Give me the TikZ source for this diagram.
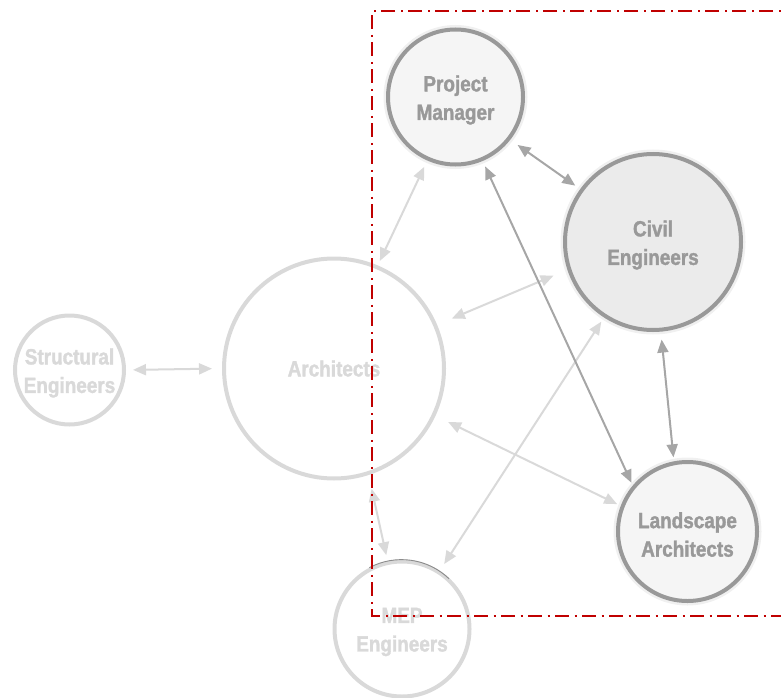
\documentclass[tikz,border=0pt]{standalone}
\usepackage{fontspec}
\newfontfamily\diagfont{Liberation Sans Bold}[FakeStretch=0.86, FakeBold=1.5]
\usetikzlibrary{arrows.meta}
\definecolor{ringgray}{HTML}{999999}
\definecolor{linkgray}{HTML}{A6A6A6}
\definecolor{palegray}{HTML}{D9D9D9}
\definecolor{halogray}{HTML}{F0F0F0}
\definecolor{softfill}{HTML}{F5F5F5}
\definecolor{civilfill}{HTML}{EBEBEB}
\definecolor{shadowgray}{HTML}{8C8C8C}
\definecolor{scopered}{HTML}{C00000}

\tikzset{
  teamtext/.style={align=center, inner sep=0, font=\diagfont\fontsize{22}{28.5}\selectfont},
  team/.style={circle, inner sep=0, teamtext},
  core/.style={team, draw=ringgray, line width=4pt, preaction={draw=halogray, line width=9pt},
    label={[teamtext, text=ringgray, yshift=-3pt]center:#1}},
  outer/.style={team, draw=palegray, line width=4pt, text=palegray, fill=white,
    label={[teamtext, text=palegray, yshift=-3pt]center:#1}},
  link/.style={<->, >={Triangle[length=13pt,width=11pt]}, line width=2pt, draw=linkgray},
  palelink/.style={link, draw=palegray},
}

\begin{document}
\begin{tikzpicture}[x=1pt, y=-1pt]
  \useasboundingbox (0,0) rectangle (781,698);

  % teams inside the scope
  \node[core={Project\\Manager}, fill=softfill, minimum size=135pt] (pm) at (455.5,97) {};
  \node[core={Civil\\Engineers}, fill=civilfill, minimum size=176pt] (civil) at (653,242) {};
  \node[core={Landscape\\Architects}, fill=softfill, minimum size=139pt] (land) at (687.5,531.5) {};

  % teams outside the scope
  \node[outer={}, minimum size=220pt] (arch) at (334,368.5) {Architects};
  \node[outer={Structural\\Engineers}, minimum size=109pt] (struct) at (69.5,370) {};
  \node[outer={MEP\\Engineers}, minimum size=135pt] (mep) at (402,629) {};
  \draw[shadowgray, line width=0.9pt] (mep.118) arc[start angle=118, end angle=46, radius=68.5pt];

  % pale links
  \draw[palelink, shorten <=7pt, shorten >=10pt] (struct.0) -- (arch.180);
  \draw[palelink, shorten <=5pt, shorten >=7pt] (arch.67) -- (pm.-114);
  \draw[palelink, shorten <=16pt, shorten >=15pt] (arch.23) -- (civil.198);
  \draw[palelink, shorten <=14pt, shorten >=4pt] (arch.-25) -- (land.159);
  \draw[palelink, shorten <=14pt, shorten >=6pt] (arch.-72) -- (mep.102);
  \draw[palelink, shorten <=8pt, shorten >=5pt] (mep.57) -- (civil.-123);

  % links between the core teams
  \draw[link, shorten <=9pt, shorten >=6pt] (pm.-38) -- (civil.144);
  \draw[link, shorten <=6pt, shorten >=3pt] (pm.-67) -- (land.140);
  \draw[link, shorten <=8pt, shorten >=4pt] (civil.-85) -- (land.101);

  % project scope
  \draw[scopered, line width=2pt, dash pattern=on 14pt off 5.5pt on 2pt off 5.5pt]
    (800,11) -- (372.3,11) -- (372.3,615.5) -- (800,615.5);
\end{tikzpicture}
\end{document}
